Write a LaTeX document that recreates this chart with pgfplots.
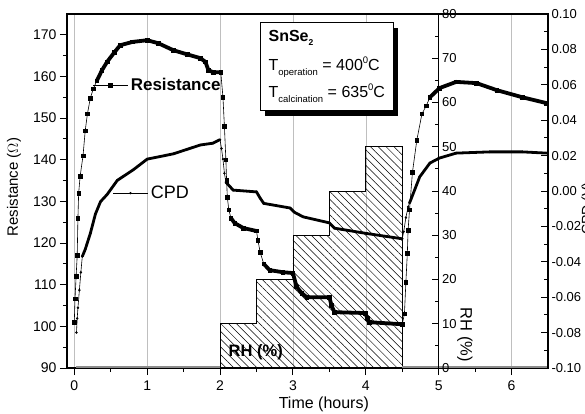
\documentclass[border=0pt]{standalone}
\usepackage{fontspec}
\setmainfont{Liberation Sans}
\usepackage{pgfplots}
\usepackage{pgfplotstable}
\pgfplotsset{compat=1.18}
\usetikzlibrary{patterns.meta,shadows}

% resistance (Ohm); s=1 where the points lie so close they form a solid line
\pgfplotstableread{
t R s
0.00 101 0
0.01 106.6 0
0.025 112 0
0.04 117 0
0.05 126 0
0.06 132 0
0.08 136 0
0.12 141 0
0.15 147 0
0.18 151 0
0.22 154.8 0
0.26 157 0
0.31 159 1
0.38 161.5 1
0.45 163.5 1
0.55 165.8 1
0.63 167.5 1
0.8 168.3 1
1.0 168.7 1
1.15 168 1
1.36 166.3 1
1.55 165.3 1
1.73 164.4 1
1.8 163.5 1
1.84 161.5 1
1.91 161 1
2.01 161 1
2.04 155 0
2.06 148 0
2.08 140 0
2.09 135 0
2.10 131 0
2.12 128 0
2.15 126 1
2.2 124.8 1
2.32 123.6 1
2.5 122.9 1
2.52 120.7 0
2.55 117.8 0
2.6 115 1
2.68 113.5 1
2.86 113 1
3.0 112.8 1
3.05 109.5 1
3.12 108 1
3.19 107 1
3.5 107 1
3.53 105 1
3.57 103.4 1
3.99 103.2 1
4.02 102 1
4.05 101 1
4.5 100.5 1
4.53 103 0
4.55 110.6 0
4.57 117.6 0
4.58 123 0
4.6 128 0
4.64 137 0
4.7 144.7 0
4.77 151 0
4.83 153 0
4.88 155 1
5.01 157.2 1
5.24 158.7 1
5.52 158.4 1
5.8 156.7 1
6.15 155 1
6.48 153.6 1
}\resdata

% CPD (V)
\pgfplotstableread{
t V s
0.03 -0.080 0
0.04 -0.072 0
0.05 -0.066 0
0.07 -0.056 0
0.09 -0.046 0
0.11 -0.037 1
0.15 -0.033 1
0.22 -0.024 1
0.29 -0.013 1
0.36 -0.006 1
0.45 -0.002 1
0.59 0.006 1
0.81 0.012 1
1.0 0.018 1
1.36 0.021 1
1.73 0.026 1
1.9 0.027 1
2.0 0.029 1
2.02 0.024 0
2.04 0.018 0
2.06 0.010 0
2.08 0.005 1
2.18 0.0005 1
2.5 -0.0005 1
2.55 -0.004 1
2.6 -0.007 1
2.96 -0.0096 1
3.02 -0.012 1
3.14 -0.0146 1
3.5 -0.018 1
3.57 -0.021 1
4.01 -0.024 1
4.5 -0.027 1
4.52 -0.023 0
4.55 -0.015 0
4.58 -0.009 0
4.6 -0.0068 1
4.74 0.008 1
4.88 0.0158 1
5.01 0.0186 1
5.24 0.0214 1
5.7 0.0221 1
6.15 0.0221 1
6.48 0.0214 1
}\cpddata

% RH steps (%)
\pgfplotstableread{
t RH
2.0 10
2.5 20
3.0 30
3.5 40
4.0 50
4.5 50
}\rhdata

\pgfplotsset{
  base/.style={scale only axis, width=481pt, height=354pt, xmin=-0.1, xmax=6.5},
  every tick label/.append style={font=\fontsize{13}{13}\selectfont},
  /pgf/number format/assume math mode=true,
  every major tick/.append style={black, line width=0.9pt},
  every minor tick/.append style={black, line width=0.9pt},
  major tick length=7pt, minor tick length=4pt,
  axis line style={line width=1.1pt},
  lgimg/.style={legend image code/.code={
    \draw[##1, mark repeat=2, mark phase=2] plot coordinates {(0pt,0pt)(17pt,0pt)(35pt,0pt)};}},
}

\begin{document}
\begin{tikzpicture}
% frame, grid, time and resistance scales
\begin{axis}[base, ymin=90, ymax=175,
  xtick={0,1,...,6}, minor x tick num=1,
  ytick={90,100,...,170}, minor y tick num=1,
  xtick pos=bottom, ytick pos=left, tick align=outside,
  tick label style={font=\fontsize{14}{14}\selectfont},
  xticklabel style={yshift=-2pt},
  xmajorgrids, major grid style={black!25, line width=0.6pt},
  xlabel={Time (hours)}, ylabel={Resistance ($\Omega$)},
  xlabel style={font=\fontsize{16}{16}\selectfont, at={(axis description cs:0.534,-0.113)}, anchor=base},
  ylabel style={font=\fontsize{15}{15}\selectfont, at={(axis description cs:-0.110,0.511)}, anchor=center, rotate=0},
]
\end{axis}

% humidity steps
\begin{axis}[base, ymin=0, ymax=80, hide axis]
\addplot[const plot, draw=black, line width=0.7pt,
  pattern={Lines[angle=-45,distance=5.5pt,line width=0.5pt]}]
  table[x=t, y=RH]{\rhdata} \closedcycle;
\addplot[black!45, line width=2pt, unbounded coords=jump] table[row sep=\\]{
t RH\\ 0.03 0.3\\ 2.0 0.3\\ 3 nan\\ 4.5 0.3\\ 6.5 0.3\\};
\node[font=\bfseries\fontsize{16.5}{16.5}\selectfont] at (axis cs:2.49,3.6) {RH (\%)};
\node[font=\fontsize{16.5}{16.5}\selectfont, rotate=-90] at (axis cs:5.36,7.5) {RH (\%)};
\end{axis}

% RH scale standing at t = 5
\begin{axis}[scale only axis, width=371.7pt, height=354pt, xmin=-0.1, xmax=5,
  ymin=0, ymax=80, axis x line=none, axis y line*=right,
  ytick={0,10,...,80}, minor y tick num=1, tick align=inside]
\end{axis}

% CPD on the right scale
\begin{axis}[base, ymin=-0.1, ymax=0.1, axis x line=none, axis y line*=right,
  ytick={-0.1,-0.08,-0.06,-0.04,-0.02,0,0.02,0.04,0.06,0.08,0.1},
  minor y tick num=1, tick align=inside,
  yticklabel style={/pgf/number format/.cd, fixed, fixed zerofill, precision=2},
  ylabel={CPD (V)},
  ylabel style={font=\fontsize{14}{14}\selectfont, at={(axis description cs:1.0624,0.45)}, anchor=north},
  lgimg,
  legend style={draw=none, fill=none, inner sep=0pt, at={(axis description cs:0.0956,0.494)}, anchor=west,
    font=\fontsize{18}{18}\selectfont},
]
\addplot[black, line width=0.6pt, mark=*, mark size=0.9pt] table[x=t, y=V]{\cpddata};
\addlegendentry{CPD}
\addplot[black, line width=2.8pt, unbounded coords=jump,
  restrict expr to domain={\thisrow{s}}{0.5:1.5}, forget plot] table[x=t, y=V]{\cpddata};
\end{axis}

% resistance curve and annotations
\begin{axis}[base, ymin=90, ymax=175, hide axis, lgimg,
  legend style={draw=none, fill=none, inner sep=0pt, at={(axis description cs:0.054,0.799)}, anchor=west,
    font=\bfseries\fontsize{17}{17}\selectfont},
]
\addplot[black, line width=0.6pt, mark=square*, mark size=1.8pt] table[x=t, y=R]{\resdata};
\addlegendentry{Resistance}
\addplot[black, line width=3.8pt, unbounded coords=jump,
  restrict expr to domain={\thisrow{s}}{0.5:1.5}, forget plot] table[x=t, y=R]{\resdata};
\node[draw=black, line width=0.9pt, fill=white, anchor=north west, minimum width=133pt,
  minimum height=88pt, inner xsep=6pt, align=left,
  drop shadow={shadow xshift=5pt, shadow yshift=-5pt, fill=black, opacity=1},
  font=\fontsize{16}{27}\selectfont]
  at (axis description cs:0.401,0.977)
  {{\bfseries\fontsize{16}{16}\selectfont SnSe\raisebox{-3.5pt}{\fontsize{8.5}{8.5}\selectfont 2}}\\[2pt]
   T\raisebox{-5pt}{\fontsize{9.5}{9.5}\selectfont operation} = 400\raisebox{7pt}{\fontsize{9.5}{9.5}\selectfont 0}C\\
   T\raisebox{-5pt}{\fontsize{9.5}{9.5}\selectfont calcination} = 635\raisebox{7pt}{\fontsize{9.5}{9.5}\selectfont 0}C};
\end{axis}

\pgfresetboundingbox
\useasboundingbox (-67pt,-46pt) rectangle (518pt,368pt);
\end{tikzpicture}
\end{document}
